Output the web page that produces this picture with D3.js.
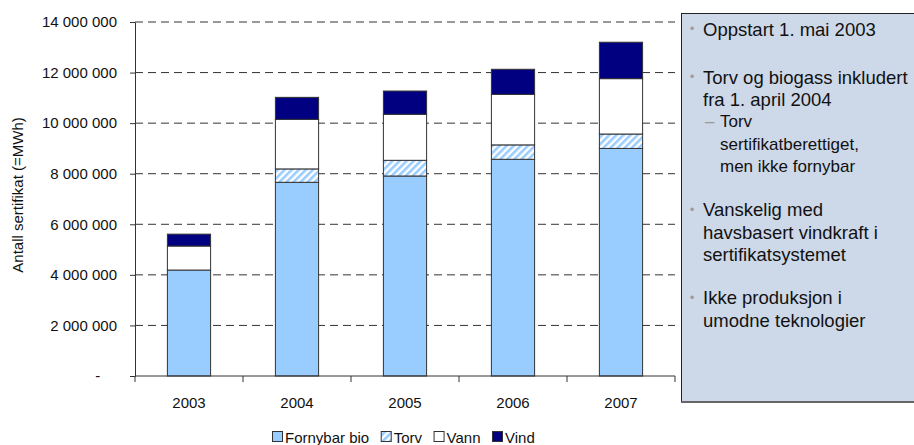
<!DOCTYPE html>
<html lang="no">
<head>
<meta charset="UTF-8">
<title>Sertifikater</title>
<script src="https://d3js.org/d3.v7.min.js"></script>
<style>
  body { margin: 0; background: #fff; }
  text { font-family: Arial, "Liberation Sans", sans-serif; }
</style>
</head>
<body>
<script>
// data
var years = ['2003', '2004', '2005', '2006', '2007']
var seriesNames = ['Fornybar bio', 'Torv', 'Vann', 'Vind']
var bio  = [4190000, 7660000, 7910000, 8570000, 9000000]
var torv = [0, 530000, 620000, 570000, 570000]
var vann = [950000, 1960000, 1820000, 2000000, 2190000]
var vind = [470000, 870000, 920000, 990000, 1440000]
var yTicks = [0, 2000000, 4000000, 6000000, 8000000, 10000000, 12000000, 14000000]
var yTitle = 'Antall sertifikat (=MWh)'
var notes = [
  {lines: ['Oppstart 1. mai 2003'], gap: 0},
  {lines: ['Torv og biogass inkludert', 'fra 1. april 2004'], gap: 26,
   sub: ['Torv', 'sertifikatberettiget,', 'men ikke fornybar']},
  {lines: ['Vanskelig med', 'havsbasert vindkraft i', 'sertifikatsystemet'], gap: 21},
  {lines: ['Ikke produksjon i', 'umodne teknologier'], gap: 21}
]

var width = 914, height = 445
var svg = d3.select('body').append('svg').attr('width', width).attr('height', height)

var defs = svg.append('defs')
var pat = defs.append('pattern').attr('id', 'hatch').attr('patternUnits', 'userSpaceOnUse')
  .attr('width', 5).attr('height', 5).attr('patternTransform', 'rotate(45)')
pat.append('rect').attr('width', 5).attr('height', 5).attr('fill', '#fff')
pat.append('rect').attr('width', 2.6).attr('height', 5).attr('fill', '#99ccff')

var colors = {'Fornybar bio': '#99ccff', 'Torv': 'url(#hatch)', 'Vann': '#ffffff', 'Vind': '#000080'}

var plot = {left: 135, right: 675, top: 22, bottom: 376}

var table = years.map(function (y, i) {
  return {year: y, 'Fornybar bio': bio[i], 'Torv': torv[i], 'Vann': vann[i], 'Vind': vind[i]}
})
var stacked = d3.stack().keys(seriesNames)(table)

var x = d3.scaleBand().domain(years).range([plot.left, plot.right]).padding(0)
var y = d3.scaleLinear().domain([0, 14000000]).range([plot.bottom, plot.top])

var nb = d3.formatLocale({decimal: ',', thousands: '\u00a0', grouping: [3], currency: ['', '']}).format(',d')

// gridlines
svg.append('g').selectAll('line').data(yTicks.filter(function (d) { return d > 0 }))
  .enter().append('line')
  .attr('x1', plot.left).attr('x2', plot.right)
  .attr('y1', function (d) { return y(d) }).attr('y2', function (d) { return y(d) })
  .attr('stroke', '#333').attr('stroke-width', 1).attr('stroke-dasharray', '8,5')

// y axis
var yAxis = d3.axisLeft(y).tickValues(yTicks).tickSize(5).tickSizeOuter(0).tickPadding(13)
  .tickFormat(function (d) { return d === 0 ? '-\u00a0\u00a0\u00a0\u00a0' : nb(d) })
var gy = svg.append('g').attr('transform', 'translate(' + plot.left + ',0)').call(yAxis)
gy.select('.domain').attr('stroke', '#333')
gy.selectAll('.tick line').attr('stroke', '#333')
gy.selectAll('text').attr('font-size', 15).attr('fill', '#111').attr('font-family', 'Arial, "Liberation Sans", sans-serif')

svg.append('text').attr('transform', 'translate(17,195) rotate(-90)')
  .attr('text-anchor', 'middle').attr('dominant-baseline', 'central')
  .attr('font-size', 15).attr('fill', '#111').text(yTitle)

// bars
var barW = x.bandwidth() * 0.4
svg.append('g').selectAll('g').data(stacked).enter().append('g')
  .attr('fill', function (d) { return colors[d.key] })
  .selectAll('rect').data(function (d) { return d.filter(function (s) { return s[1] > s[0] }) })
  .enter().append('rect')
  .attr('x', function (d) { return x(d.data.year) + (x.bandwidth() - barW) / 2 })
  .attr('width', barW)
  .attr('y', function (d) { return y(d[1]) })
  .attr('height', function (d) { return y(d[0]) - y(d[1]) })
  .attr('stroke', '#333').attr('stroke-width', 1)

// x axis
var gx = svg.append('g').attr('transform', 'translate(0,' + plot.bottom + ')')
gx.append('line').attr('x1', plot.left).attr('x2', plot.right).attr('stroke', '#333')
var bounds = years.map(function (d) { return x(d) }).concat([plot.right])
gx.selectAll('.bt').data(bounds).enter().append('line').attr('class', 'bt')
  .attr('x1', function (d) { return d }).attr('x2', function (d) { return d })
  .attr('y1', 0).attr('y2', 6).attr('stroke', '#333')
gx.selectAll('.lab').data(years).enter().append('text').attr('class', 'lab')
  .attr('x', function (d) { return x(d) + x.bandwidth() / 2 }).attr('y', 26)
  .attr('text-anchor', 'middle').attr('dominant-baseline', 'central')
  .attr('font-size', 15).attr('fill', '#111').text(function (d) { return d })

// legend
var legend = svg.append('g').attr('transform', 'translate(272,437)')
var lx = 0
seriesNames.forEach(function (name) {
  legend.append('rect').attr('x', lx + 0.5).attr('y', -5.5).attr('width', 10).attr('height', 10)
    .attr('fill', colors[name]).attr('stroke', '#333')
  var t = legend.append('text').attr('x', lx + 13).attr('y', 0).attr('dominant-baseline', 'central')
    .attr('font-size', 15).attr('fill', '#111').text(name)
  lx += 13 + t.node().getComputedTextLength() + 11.5
})

// text box
var box = svg.append('g')
box.append('rect').attr('x', 681.5).attr('y', 13.5).attr('width', 240).attr('height', 388)
  .attr('fill', '#cdd8e8').attr('stroke', '#222')
box.append('line').attr('x1', 681).attr('x2', 914).attr('y1', 402).attr('y2', 402)
  .attr('stroke', '#666').attr('stroke-width', 2)

var lineH = 22.3
var cy = 29
notes.forEach(function (n) {
  cy += n.gap
  box.append('text').attr('x', 690).attr('y', cy).attr('dominant-baseline', 'central')
    .attr('font-size', 12).attr('fill', '#999').text('\u2022')
  n.lines.forEach(function (l) {
    box.append('text').attr('x', 703).attr('y', cy).attr('dominant-baseline', 'central')
      .attr('font-size', 18.5).attr('fill', '#111').text(l)
    cy += lineH
  })
  if (n.sub) {
    box.append('text').attr('x', 705).attr('y', cy).attr('dominant-baseline', 'central')
      .attr('font-size', 17).attr('fill', '#999').text('\u2013')
    n.sub.forEach(function (l) {
      box.append('text').attr('x', 720).attr('y', cy).attr('dominant-baseline', 'central')
        .attr('font-size', 17).attr('fill', '#111').text(l)
      cy += lineH
    })
  }
})
</script>
</body>
</html>
